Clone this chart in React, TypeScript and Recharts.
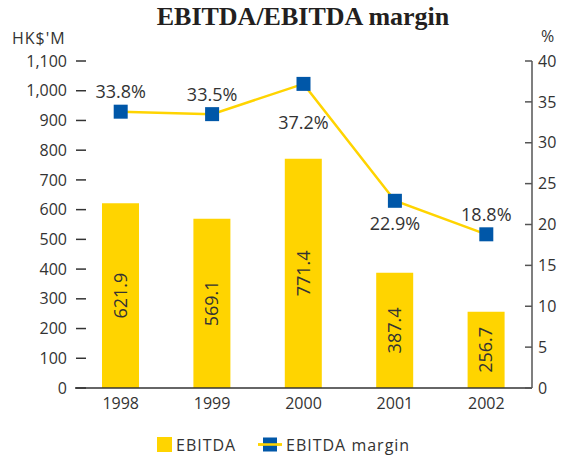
import React from 'react';
import { ComposedChart, Bar, Line, XAxis, YAxis, LabelList } from 'recharts';

const years = ['1998', '1999', '2000', '2001', '2002'];
const ebitda = [621.9, 569.1, 771.4, 387.4, 256.7];
const ebitdaMargin = [33.8, 33.5, 37.2, 22.9, 18.8];
const leftTicks = [0, 100, 200, 300, 400, 500, 600, 700, 800, 900, 1000, 1100];
const rightTicks = [0, 5, 10, 15, 20, 25, 30, 35, 40];
const seriesNames = ['EBITDA', 'EBITDA margin'];
const title = 'EBITDA/EBITDA margin';
const leftUnit = "HK$'M";
const rightUnit = '%';

const data = years.map((y, i) => ({ year: y, ebitda: ebitda[i], margin: ebitdaMargin[i] }));

const YELLOW = '#FFD400';
const BLUE = '#0057A8';
const TEXT = '#333333';
const FONT = '"Open Sans", "Noto Sans", sans-serif';

// label offsets (px) from the marker centre for each margin point
const LABEL_DY = [-20, -20, 39, 23, -20];

const fmt = (v: number) => v.toLocaleString('en-US');

const LeftTick = (props: any) => {
  const { x, y, payload } = props;
  return (
    <g>
      <text x={x} y={y} dy="0.355em" textAnchor="end" fill={TEXT} fontSize={16} fontFamily={FONT}>
        {fmt(payload.value)}
      </text>
      <line x1={x + 9} x2={x + 19} y1={y} y2={y} stroke={TEXT} strokeWidth={1.5} />
    </g>
  );
};

const RightTick = (props: any) => {
  const { x, y, payload } = props;
  return (
    <g>
      <text x={x} y={y} dy="0.355em" textAnchor="start" fill={TEXT} fontSize={16} fontFamily={FONT}>
        {payload.value}
      </text>
      <line x1={x - 6} x2={x - 13} y1={y} y2={y} stroke="#555" strokeWidth={1.5} />
    </g>
  );
};

const SquareDot = (props: any) => {
  const { cx, cy, index } = props;
  if (cx == null || cy == null) return <g key={index} />;
  return <rect key={index} x={cx - 7} y={cy - 7} width={14} height={14} fill={BLUE} />;
};

const BarLabel = (props: any) => {
  const { x, y, width, height, value } = props;
  const cx = x + width / 2;
  const cy = y + height / 2;
  return (
    <text
      x={cx}
      y={cy}
      dy="0.355em"
      textAnchor="middle"
      transform={`rotate(-90, ${cx}, ${cy})`}
      fill={TEXT}
      fontSize={18}
      fontFamily={FONT}
    >
      {value}
    </text>
  );
};

const MarginLabel = (props: any) => {
  const { x, y, value, index } = props;
  return (
    <text x={x} y={y + LABEL_DY[index]} dy="0.355em" textAnchor="middle" fill={TEXT} fontSize={18} fontFamily={FONT}>
      {`${value.toFixed(1)}%`}
    </text>
  );
};

export default function App() {
  return (
    <div style={{ position: 'absolute', left: 0, top: 0, width: 565, height: 457, background: '#fff' }}>
      <ComposedChart
        width={565}
        height={457}
        data={data}
        margin={{ top: 61, right: 0, left: 0, bottom: 38 }}
      >
        <XAxis
          dataKey="year"
          height={31}
          tickLine={false}
          tickSize={0}
          tickMargin={10}
          axisLine={{ stroke: TEXT, strokeWidth: 1.5 }}
          tick={{ fill: TEXT, fontSize: 16, fontFamily: FONT }}
        />
        <YAxis
          yAxisId="left"
          orientation="left"
          width={75}
          domain={[0, 1100]}
          ticks={leftTicks}
          interval={0}
          axisLine={false}
          tickLine={false}
          tickSize={0}
          tickMargin={8}
          tick={<LeftTick />}
        />
        <YAxis
          yAxisId="right"
          orientation="right"
          width={33}
          domain={[0, 40]}
          ticks={rightTicks}
          interval={0}
          axisLine={{ stroke: '#555', strokeWidth: 1.5 }}
          tickLine={false}
          tickSize={0}
          tickMargin={6}
          tick={<RightTick />}
        />
        <Bar yAxisId="left" dataKey="ebitda" name={seriesNames[0]} fill={YELLOW} barSize={37} isAnimationActive={false}>
          <LabelList dataKey="ebitda" content={<BarLabel />} />
        </Bar>
        <Line
          yAxisId="right"
          dataKey="margin"
          stroke="none"
          dot={<SquareDot />}
          activeDot={false}
          legendType="none"
          isAnimationActive={false}
        />
        <Line
          yAxisId="right"
          type="linear"
          dataKey="margin"
          name={seriesNames[1]}
          stroke={YELLOW}
          strokeWidth={2.5}
          dot={false}
          activeDot={false}
          isAnimationActive={false}
        >
          <LabelList dataKey="margin" content={<MarginLabel />} />
        </Line>
      </ComposedChart>
      <svg width={565} height={457} style={{ position: 'absolute', left: 0, top: 0, pointerEvents: 'none' }}>
        <text x={303} y={25} textAnchor="middle" fontFamily='"Liberation Serif", serif' fontWeight="bold" fontSize={26} fill="#231F20">
          {title}
        </text>
        <text x={12} y={44} fontFamily={FONT} fontSize={16} letterSpacing={1} fill={TEXT}>
          {leftUnit}
        </text>
        <text x={541} y={42} fontFamily={FONT} fontSize={16} fill={TEXT}>
          {rightUnit}
        </text>
        <rect x={157} y={437} width={15} height={15} fill={YELLOW} />
        <text x={176} y={451} fontFamily={FONT} fontSize={16} letterSpacing={1} fill={TEXT}>
          {seriesNames[0]}
        </text>
        <line x1={258} x2={282} y1={444.5} y2={444.5} stroke={YELLOW} strokeWidth={2.5} />
        <rect x={263} y={437.5} width={14} height={14} fill={BLUE} />
        <line x1={258} x2={282} y1={444.5} y2={444.5} stroke={YELLOW} strokeWidth={2.5} />
        <text x={286} y={451} fontFamily={FONT} fontSize={16} letterSpacing={1} fill={TEXT}>
          {seriesNames[1]}
        </text>
      </svg>
    </div>
  );
}
